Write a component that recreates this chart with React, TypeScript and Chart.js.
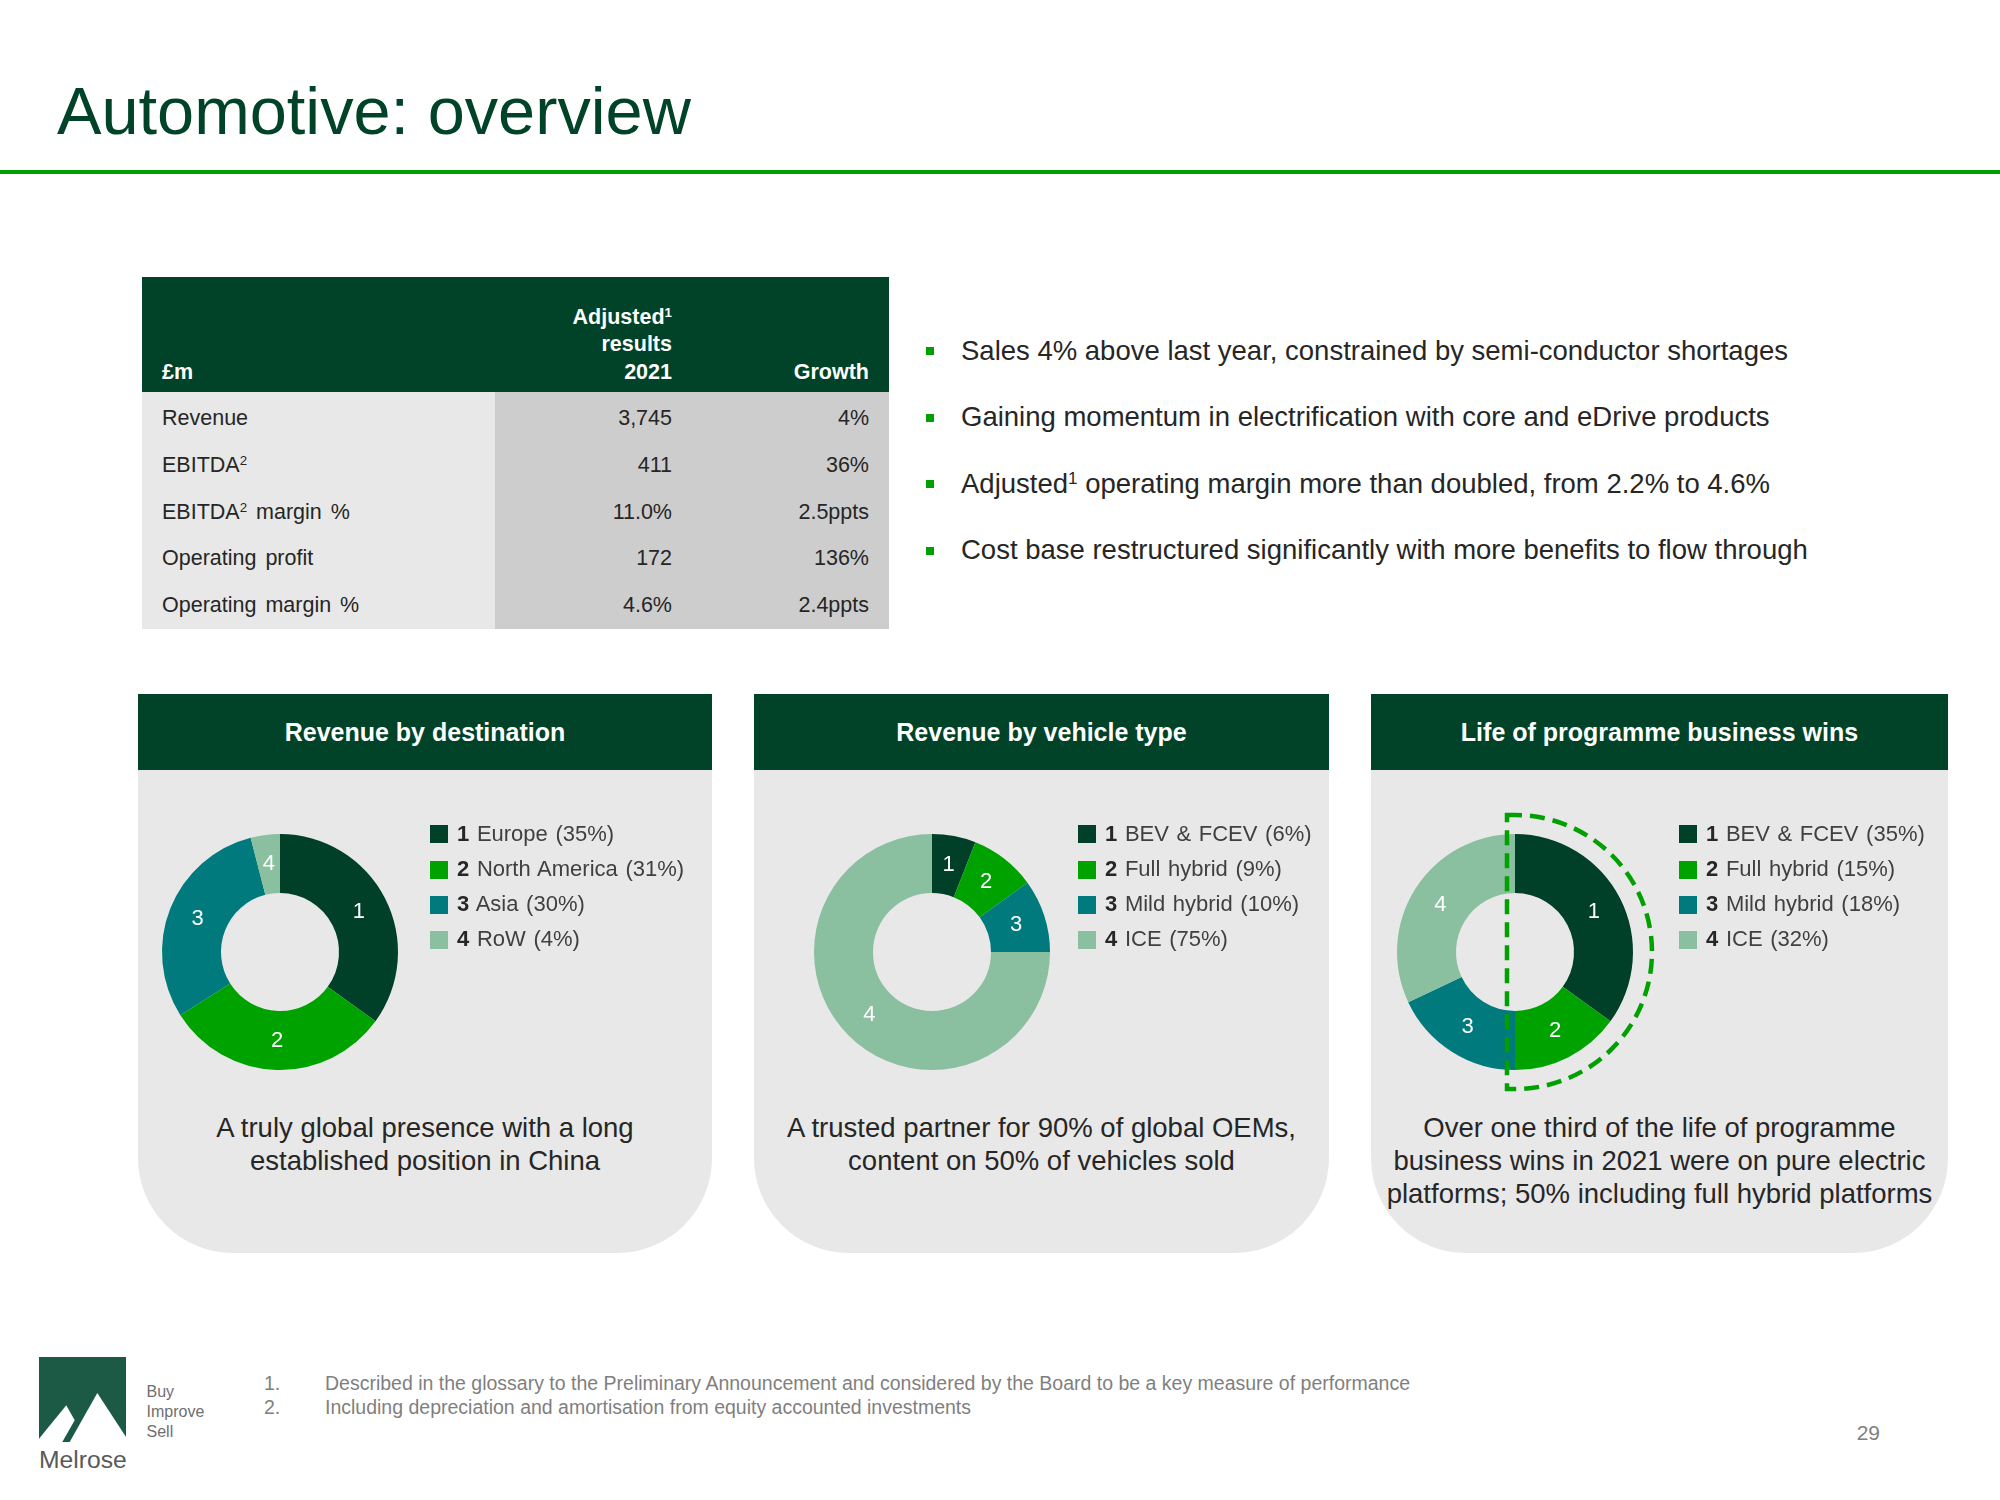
import React, { useEffect, useRef } from "react";
import { Chart, registerables } from "chart.js";

Chart.register(...registerables);

// ---------------- DATA ----------------
const destLabels = ["Europe", "North America", "Asia", "RoW"];
const destValues = [35, 31, 30, 4];

const vehicleLabels = ["BEV & FCEV", "Full hybrid", "Mild hybrid", "ICE"];
const vehicleValues = [6, 9, 10, 75];

const winsLabels = ["BEV & FCEV", "Full hybrid", "Mild hybrid", "ICE"];
const winsValues = [35, 15, 18, 32];

const sliceColors = ["#003F28", "#00A200", "#007A7C", "#8ABF9F"];

const tableLabels = ["Revenue", "EBITDA{2}", "EBITDA{2} margin %", "Operating profit", "Operating margin %"];
const tableValues = ["3,745", "411", "11.0%", "172", "4.6%"];
const tableGrowth = ["4%", "36%", "2.5ppts", "136%", "2.4ppts"];

const bulletTexts = [
  "Sales 4% above last year, constrained by semi-conductor shortages",
  "Gaining momentum in electrification with core and eDrive products",
  "Adjusted{1} operating margin more than doubled, from 2.2% to 4.6%",
  "Cost base restructured significantly with more benefits to flow through",
];

const panelTitles = ["Revenue by destination", "Revenue by vehicle type", "Life of programme business wins"];
const panelCaptions = [
  ["A truly global presence with a long", "established position in China"],
  ["A trusted partner for 90% of global OEMs,", "content on 50% of vehicles sold"],
  ["Over one third of the life of programme", "business wins in 2021 were on pure electric", "platforms; 50% including full hybrid platforms"],
];

const footnotes = [
  "Described in the glossary to the Preliminary Announcement and considered by the Board to be a key measure of performance",
  "Including depreciation and amortisation from equity accounted investments",
];

// ---------------- STYLE ----------------
const FONT = '"Liberation Sans", Arial, Helvetica, sans-serif';
const DARK_GREEN = "#004329";
const BRIGHT_GREEN = "#00A000";

function sup(text: string) {
  const parts = text.split(/\{(\d)\}/);
  return parts.map((p, i) =>
    i % 2 === 1 ? (
      <sup key={i} style={{ fontSize: "0.62em", verticalAlign: "0.55em", lineHeight: 0 }}>{p}</sup>
    ) : (
      <React.Fragment key={i}>{p}</React.Fragment>
    )
  );
}

type TProps = {
  x: number;
  y: number; // baseline
  size: number;
  align?: "left" | "right" | "center";
  color?: string;
  weight?: number | string;
  w?: number;
  ws?: number;
  children: React.ReactNode;
};

function T({ x, y, size, align = "left", color = "#262626", weight = 400, w = 900, ws = 0, children }: TProps) {
  const top = y - 0.8465 * size;
  let left = x;
  if (align === "right") left = x - w;
  if (align === "center") left = x - w / 2;
  return (
    <div
      style={{
        position: "absolute",
        left,
        top,
        width: w,
        fontSize: size,
        lineHeight: `${size}px`,
        fontFamily: FONT,
        fontWeight: weight as any,
        color,
        textAlign: align,
        whiteSpace: "nowrap",
        wordSpacing: ws,
      }}
    >
      {children}
    </div>
  );
}

function Donut({ labels, values, cx, cy, dashed }: { labels: string[]; values: number[]; cx: number; cy: number; dashed?: boolean }) {
  const ref = useRef<HTMLCanvasElement>(null);
  const size = 330;
  useEffect(() => {
    if (!ref.current) return;
    const labelPlugin = {
      id: "sliceLabels",
      afterDatasetsDraw(chart: any) {
        const ctx = chart.ctx;
        const meta = chart.getDatasetMeta(0);
        ctx.save();
        ctx.fillStyle = "#FFFFFF";
        ctx.font = `22px ${FONT}`;
        ctx.textAlign = "center";
        ctx.textBaseline = "middle";
        meta.data.forEach((arc: any, i: number) => {
          const p = arc.tooltipPosition();
          ctx.fillText(String(i + 1), p.x, p.y);
        });
        ctx.restore();
      },
    };
    const dashPlugin = {
      id: "dashOutline",
      afterDraw(chart: any) {
        if (!dashed) return;
        const arc: any = chart.getDatasetMeta(0).data[0];
        const ctx = chart.ctx;
        const x = arc.x;
        const y = arc.y;
        const R = arc.outerRadius + 19;
        ctx.save();
        ctx.strokeStyle = BRIGHT_GREEN;
        ctx.lineWidth = 4.5;
        ctx.setLineDash([15, 8]);
        ctx.beginPath();
        ctx.moveTo(x - 8, y - R);
        ctx.lineTo(x, y - R);
        ctx.arc(x, y, R, -Math.PI / 2, Math.PI / 2);
        ctx.lineTo(x - 8, y + R);
        ctx.closePath();
        ctx.stroke();
        ctx.restore();
      },
    };
    const chart = new Chart(ref.current, {
      type: "doughnut",
      data: {
        labels,
        datasets: [
          {
            data: values,
            backgroundColor: sliceColors,
            borderWidth: 0,
          },
        ],
      },
      options: {
        responsive: false,
        animation: false,
        radius: 118,
        cutout: "50%",
        events: [],
        layout: { padding: 0 },
        plugins: { legend: { display: false }, tooltip: { enabled: false }, title: { display: false } },
      } as any,
      plugins: [labelPlugin, dashPlugin],
    });
    return () => chart.destroy();
  }, []);
  return (
    <canvas
      ref={ref}
      width={size}
      height={size}
      style={{ position: "absolute", left: cx - size / 2, top: cy - size / 2, width: size, height: size }}
    />
  );
}

function Legend({ x, labels, values }: { x: number; labels: string[]; values: number[] }) {
  const rows = [834, 869.5, 904.5, 939.5];
  return (
    <>
      {labels.map((l, i) => (
        <React.Fragment key={i}>
          <div style={{ position: "absolute", left: x, top: rows[i] - 9, width: 18, height: 18, background: sliceColors[i] }} />
          <T x={x + 27} y={rows[i] + 7.5} size={22} color="#404040" ws={1.5}>
            <b style={{ color: "#262626" }}>{i + 1}</b> {l} ({values[i]}%)
          </T>
        </React.Fragment>
      ))}
    </>
  );
}

function Panel({ left, width, title, caption }: { left: number; width: number; title: string; caption: string[] }) {
  const top = 694;
  const height = 559;
  return (
    <>
      <div
        style={{
          position: "absolute",
          left,
          top,
          width,
          height,
          background: "#E8E8E8",
          borderBottomLeftRadius: 95,
          borderBottomRightRadius: 95,
        }}
      />
      <div
        style={{
          position: "absolute",
          left,
          top,
          width,
          height: 76,
          background: DARK_GREEN,
          color: "#FFFFFF",
          fontFamily: FONT,
          fontWeight: 700,
          fontSize: 25,
          display: "flex",
          alignItems: "center",
          justifyContent: "center",
        }}
      >
        {title}
      </div>
      <div
        style={{
          position: "absolute",
          left,
          top: 1111,
          width,
          textAlign: "center",
          fontFamily: FONT,
          fontSize: 27.5,
          lineHeight: "33px",
          color: "#262626",
          whiteSpace: "nowrap",
        }}
      >
        {caption.map((c, i) => (
          <div key={i}>{c}</div>
        ))}
      </div>
    </>
  );
}

export default function App() {
  const rowBase = [426, 473, 520, 566.5, 613.5];
  const bulletBase = [360, 426.5, 493, 559.5];
  return (
    <div
      style={{
        position: "absolute",
        left: 0,
        top: 0,
        width: 2000,
        height: 1500,
        background: "#FFFFFF",
        overflow: "hidden",
        fontFamily: FONT,
      }}
    >
      {/* Title */}
      <T x={57} y={134} size={66.7} color={DARK_GREEN} w={1200}>
        Automotive: overview
      </T>
      <div style={{ position: "absolute", left: 0, top: 170, width: 2000, height: 4, background: BRIGHT_GREEN }} />

      {/* Table */}
      <div style={{ position: "absolute", left: 142, top: 277, width: 747, height: 115, background: DARK_GREEN }} />
      <div style={{ position: "absolute", left: 142, top: 392, width: 353, height: 237, background: "#E8E8E8" }} />
      <div style={{ position: "absolute", left: 495, top: 392, width: 394, height: 237, background: "#CDCDCD" }} />
      <T x={162} y={380} size={21.5} color="#FFFFFF" weight={700}>£m</T>
      <T x={672} y={325.5} size={21.5} color="#FFFFFF" weight={700} align="right" w={300}>{sup("Adjusted{1}")}</T>
      <T x={672} y={352.5} size={21.5} color="#FFFFFF" weight={700} align="right" w={300}>results</T>
      <T x={672} y={380} size={21.5} color="#FFFFFF" weight={700} align="right" w={300}>2021</T>
      <T x={869} y={380} size={21.5} color="#FFFFFF" weight={700} align="right" w={300}>Growth</T>
      {tableLabels.map((l, i) => (
        <React.Fragment key={i}>
          <T x={162} y={rowBase[i]} size={21.5} color="#262626" ws={3}>{sup(l)}</T>
          <T x={672} y={rowBase[i]} size={21.5} color="#262626" align="right" w={300}>{tableValues[i]}</T>
          <T x={869} y={rowBase[i]} size={21.5} color="#262626" align="right" w={300}>{tableGrowth[i]}</T>
        </React.Fragment>
      ))}

      {/* Bullets */}
      {bulletTexts.map((b, i) => (
        <React.Fragment key={i}>
          <div style={{ position: "absolute", left: 926, top: bulletBase[i] - 13, width: 8, height: 8, background: BRIGHT_GREEN }} />
          <T x={961} y={bulletBase[i]} size={27.5} color="#262626" w={1000}>{sup(b)}</T>
        </React.Fragment>
      ))}

      {/* Panels */}
      <Panel left={138} width={574} title={panelTitles[0]} caption={panelCaptions[0]} />
      <Panel left={754} width={575} title={panelTitles[1]} caption={panelCaptions[1]} />
      <Panel left={1371} width={577} title={panelTitles[2]} caption={panelCaptions[2]} />

      <Donut labels={destLabels} values={destValues} cx={279.5} cy={951.5} />
      <Donut labels={vehicleLabels} values={vehicleValues} cx={932} cy={951.5} />
      <Donut labels={winsLabels} values={winsValues} cx={1515} cy={951.5} dashed />

      <Legend x={430} labels={destLabels} values={destValues} />
      <Legend x={1078} labels={vehicleLabels} values={vehicleValues} />
      <Legend x={1679} labels={winsLabels} values={winsValues} />

      {/* Footer logo */}
      <svg style={{ position: "absolute", left: 39, top: 1357 }} width={87} height={85}>
        <rect x={0} y={0} width={87} height={85} fill="#1C5A45" />
        <polygon points="0,85 0,81.7 27.3,48.3 35.7,63.3 23.3,85" fill="#FFFFFF" />
        <polygon points="30.7,85 58.3,36 87,80 87,85" fill="#FFFFFF" />
      </svg>
      <T x={39} y={1469} size={24.7} color="#595959">Melrose</T>
      <T x={146.5} y={1398} size={16} color="#6F6F6F">Buy</T>
      <T x={146.5} y={1418} size={16} color="#6F6F6F">Improve</T>
      <T x={146.5} y={1438} size={16} color="#6F6F6F">Sell</T>

      {footnotes.map((f, i) => (
        <React.Fragment key={i}>
          <T x={264} y={1390.5 + i * 24} size={19.5} color="#7F7F7F">{i + 1}.</T>
          <T x={325} y={1390.5 + i * 24} size={19.5} color="#7F7F7F" w={1300}>{f}</T>
        </React.Fragment>
      ))}
      <T x={1880} y={1440} size={21} color="#7F7F7F" align="right" w={100}>29</T>
    </div>
  );
}
